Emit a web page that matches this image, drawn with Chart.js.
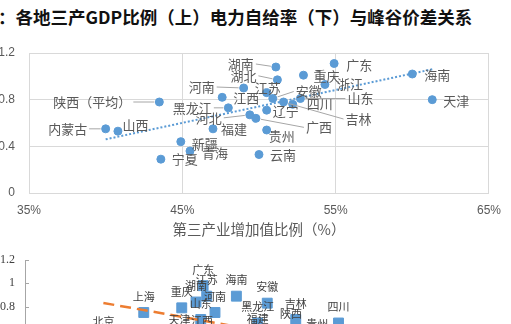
<!DOCTYPE html>
<html>
<head>
<meta charset="utf-8">
<script src="https://cdn.jsdelivr.net/npm/chart.js@4"></script>
<style>
  body { margin: 0; background: #fff; overflow: hidden; width: 511px; height: 324px; position: relative; }
  #title { position: absolute; left: -2px; top: 8px; font: bold 17.5px/18px "Noto Sans CJK SC", sans-serif; color: #111; white-space: nowrap; }
  canvas { position: absolute; left: 0; }
</style>
</head>
<body>
<div id="title">：各地三产GDP比例（上）电力自给率（下）与峰谷价差关系</div>
<canvas id="topChart" width="511" height="210" style="top:30px"></canvas>
<canvas id="bottomChart" width="511" height="200" style="top:250px"></canvas>
<script>
// top chart: tertiary industry share (%) vs peak-valley spread
var topNames = ['广东', '海南', '天津', '湖南', '湖北', '重庆', '浙江', '江苏', '安徽', '山东',
  '吉林', '四川', '辽宁', '河北', '广西', '贵州', '云南', '河南', '江西', '黑龙江',
  '福建', '陕西（平均）', '内蒙古', '山西', '新疆', '青海', '宁夏'];
var topTertiary = [54.9, 60.0, 61.3, 51.1, 51.2, 52.9, 54.3, 50.5, 50.9, 52.7,
  51.6, 52.2, 50.5, 49.4, 49.8, 50.5, 50.0, 49.0, 47.6, 48.0,
  47.0, 43.5, 40.0, 40.8, 44.9, 45.5, 43.6];
var topSpread = [1.11, 1.02, 0.80, 1.08, 0.97, 1.01, 0.93, 0.86, 0.81, 0.81,
  0.78, 0.76, 0.71, 0.67, 0.64, 0.54, 0.33, 0.90, 0.82, 0.73,
  0.55, 0.78, 0.55, 0.53, 0.44, 0.36, 0.29];
var topXTicks = [35, 45, 55, 65];
var topTrend = { slope: 0.0282, intercept: -0.668 };

// bottom chart: power self-sufficiency rate vs peak-valley spread (only the top part is visible)
var botNames = ['北京', '上海', '天津', '重庆', '湖南', '山东', '江西', '广东', '江苏', '河南',
  '海南', '黑龙江', '福建', '安徽', '陕西', '吉林', '贵州', '四川'];
var botSelfRate = [0.33, 0.50, 0.65, 0.66, 0.72, 0.74, 0.745, 0.75, 0.765, 0.80,
  0.89, 0.98, 0.98, 1.02, 1.12, 1.14, 1.23, 1.32];
var botSpread = [0.53, 0.75, 0.55, 0.79, 0.84, 0.69, 0.54, 0.98, 0.89, 0.75,
  0.89, 0.66, 0.56, 0.83, 0.60, 0.69, 0.52, 0.66];
var botTrend = { slope: -0.361, intercept: 0.951 };

// label placement for the top chart: [dx, dy, leader line]
var topLabelPos = [[25, 2, 0], [25, 1, 0], [24, 1, 0], [-35, -3, 1], [-34, -4, 1], [23, 1, 0], [25, 0, 0],
  [1, -5, 0], [36, -7, 1], [60, 0, 1], [75, 17, 1], [27, 0, 0], [19, 1, 0], [-41, 3, 1], [63, 9, 1],
  [15, 6, 0], [24, 1, 0], [-42, -1, 1], [24, 1, 0], [-36, 0, 1], [21, 0, 0], [-67, 0, 1], [-38, 0, 1],
  [17.5, -6.5, 0], [24, 2.5, 0], [25, 2, 0], [24, 0, 0]];

var blue = '#5B9BD5';
var orange = '#ED7D31';

function makeLabels(id, names, pos, font, color) {
  return {
    id: id,
    afterDatasetsDraw: function (chart) {
      var meta = chart.getDatasetMeta(1);
      var ctx = chart.ctx;
      ctx.save();
      ctx.font = font;
      ctx.textAlign = 'center';
      ctx.textBaseline = 'middle';
      meta.data.forEach(function (pt, i) {
        var p = pos(i);
        var lx = pt.x + p[0], ly = pt.y + p[1];
        var w = ctx.measureText(names[i]).width;
        if (p[2]) {
          var ex = p[0] < 0 ? lx + w / 2 + 2 : lx - w / 2 - 2;
          var dx = ex - pt.x, dy = ly - pt.y, d = Math.sqrt(dx * dx + dy * dy);
          ctx.strokeStyle = '#a6a6a6';
          ctx.lineWidth = 1;
          ctx.beginPath();
          ctx.moveTo(pt.x + dx / d * 5, pt.y + dy / d * 5);
          ctx.lineTo(ex, ly);
          ctx.stroke();
        }
        ctx.fillStyle = color;
        ctx.fillText(names[i], lx, ly);
      });
      ctx.restore();
    }
  };
}

function trendPoints(xs, t) {
  var lo = Math.min.apply(null, xs), hi = Math.max.apply(null, xs);
  return [{ x: lo, y: t.intercept + t.slope * lo }, { x: hi, y: t.intercept + t.slope * hi }];
}

var gray = '#595959';
var grid = '#d9d9d9';

new Chart(document.getElementById('topChart'), {
  type: 'scatter',
  data: {
    datasets: [{
      data: trendPoints(topTertiary, topTrend),
      showLine: true,
      borderColor: blue,
      borderWidth: 2,
      borderDash: [2, 2],
      pointRadius: 0,
      order: 0
    }, {
      data: topTertiary.map(function (x, i) { return { x: x, y: topSpread[i] }; }),
      backgroundColor: blue,
      borderColor: blue,
      pointRadius: 4,
      order: 1
    }]
  },
  options: {
    responsive: false,
    animation: false,
    devicePixelRatio: 1,
    layout: { autoPadding: false, padding: { top: 23, right: 18, left: 0, bottom: 0 } },
    plugins: { legend: { display: false }, tooltip: { enabled: false } },
    scales: {
      x: {
        min: 35, max: 65,
        afterBuildTicks: function (s) { s.ticks = topXTicks.map(function (v) { return { value: v }; }); },
        afterFit: function (s) { s.height = 47; },
        ticks: { padding: 10, color: gray, font: { size: 12, family: 'Liberation Sans' },
          callback: function (v) { return v + '%'; } },
        grid: { color: grid, drawTicks: false },
        border: { color: grid },
        title: { display: true, text: '第三产业增加值比例（%）', color: gray,
          font: { size: 14.5, family: 'Noto Sans CJK SC' }, padding: { top: 0, bottom: 2 } }
      },
      y: {
        min: 0, max: 1.2,
        afterFit: function (s) { s.width = 29; s.paddingTop = 0; s.paddingBottom = 0; },
        ticks: { stepSize: 0.4, padding: 14, color: gray, font: { size: 12, family: 'Liberation Sans' } },
        grid: { color: grid, drawTicks: false },
        border: { color: grid }
      }
    }
  },
  plugins: [makeLabels('topLabels', topNames, function (i) { return topLabelPos[i]; },
    '13px "Noto Sans CJK SC"', gray)]
});

var innerTicks = {
  id: 'innerTicks',
  afterDraw: function (chart) {
    var s = chart.scales.y, ctx = chart.ctx;
    ctx.save();
    ctx.strokeStyle = '#a6a6a6';
    ctx.lineWidth = 1;
    s.ticks.forEach(function (t) {
      var y = Math.round(s.getPixelForValue(t.value)) + 0.5;
      ctx.beginPath();
      ctx.moveTo(s.right, y);
      ctx.lineTo(s.right + 4, y);
      ctx.stroke();
    });
    ctx.restore();
  }
};

new Chart(document.getElementById('bottomChart'), {
  type: 'scatter',
  data: {
    datasets: [{
      data: trendPoints(botSelfRate, botTrend),
      showLine: true,
      borderColor: orange,
      borderWidth: 2.5,
      borderDash: [11, 6],
      pointRadius: 0,
      order: 0
    }, {
      data: botSelfRate.map(function (x, i) { return { x: x, y: botSpread[i] }; }),
      pointStyle: 'rect',
      backgroundColor: blue,
      borderColor: blue,
      pointRadius: 7,
      order: 1
    }]
  },
  options: {
    responsive: false,
    animation: false,
    devicePixelRatio: 1,
    layout: { autoPadding: false, padding: { top: 10, right: 11, left: 0, bottom: 0 } },
    plugins: { legend: { display: false }, tooltip: { enabled: false } },
    scales: {
      x: {
        min: 0, max: 2,
        afterFit: function (s) { s.height = 50; },
        ticks: { display: false },
        grid: { display: false, drawTicks: false },
        border: { display: false }
      },
      y: {
        min: 0, max: 1.2,
        afterFit: function (s) { s.width = 25; s.paddingTop = 0; s.paddingBottom = 0; },
        ticks: { stepSize: 0.2, padding: 10, color: '#404040', font: { size: 12, family: 'Liberation Serif' },
          callback: function (v) { return String(Math.round(v * 10) / 10); } },
        grid: { display: false, drawTicks: false },
        border: { color: '#a6a6a6' }
      }
    }
  },
  plugins: [innerTicks, makeLabels('botLabels', botNames, function () { return [0, -16, 0]; },
    '11px "Noto Sans CJK SC"', '#404040')]
});
</script>
</body>
</html>
